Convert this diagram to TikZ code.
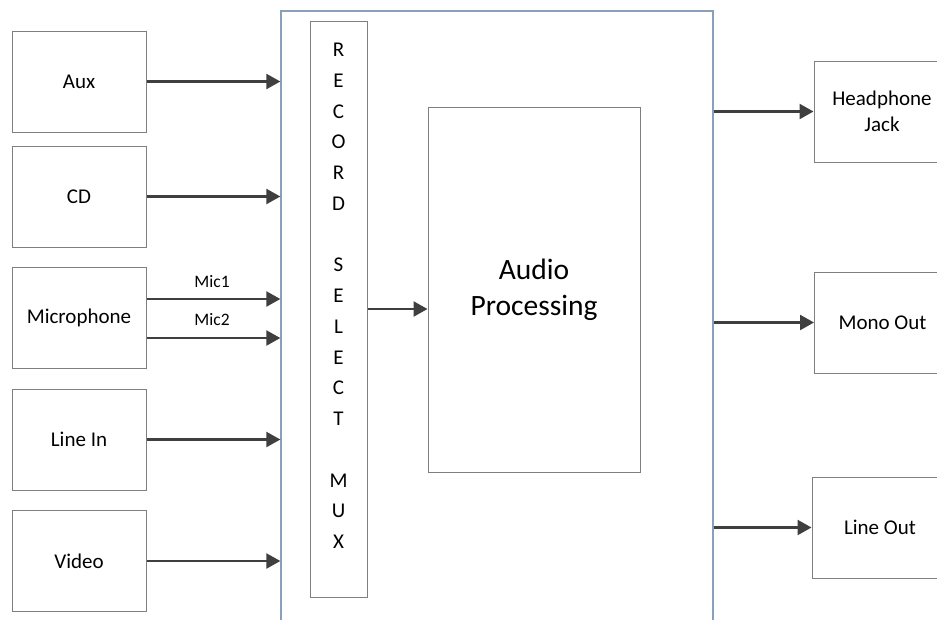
\documentclass[tikz,border=0pt]{standalone}
\usepackage{fontspec}
\setmainfont{Carlito}
\usetikzlibrary{arrows.meta}
\definecolor{boxgray}{HTML}{7F7F7F}
\definecolor{arrowgray}{HTML}{3F3F3F}
\definecolor{bigblue}{HTML}{8A9FBA}
\begin{document}
\begin{tikzpicture}[x=1pt,y=-1pt,
  box/.style={draw=boxgray, line width=1pt, minimum width=134pt, minimum height=101pt,
    inner sep=0pt, font=\fontsize{21}{25.6}\selectfont, align=center},
  conn/.style={draw=arrowgray, line width=2.3pt, -{Triangle[length=14pt,width=15pt]}},
  lbl/.style={font=\fontsize{17.5}{21}\selectfont, inner sep=0pt}]
\useasboundingbox (0,0) rectangle (937,619);
\clip (0,0) rectangle (937,619);
% main enclosure
\node[draw=bigblue, line width=1.3pt, minimum width=432pt, minimum height=649pt, inner sep=0pt] (big) at (497,335.5) {};
% mux
\node[draw=boxgray, line width=1pt, minimum width=57pt, minimum height=576pt, inner sep=0pt] (mux) at (338.5,309) {};
\node[font=\fontsize{21}{30.75}\selectfont, align=center, inner sep=0pt] (muxtext) at (338.5,296)
  {R\\E\\C\\O\\R\\D\\[30.75pt]S\\E\\L\\E\\C\\T\\[30.75pt]M\\U\\X};
% audio processing
\node[draw=boxgray, line width=1pt, minimum width=212pt, minimum height=365pt, inner sep=0pt,
  font=\fontsize{29.5}{36}\selectfont, align=center] (audio) at (534,289.5) {Audio\\Processing};
% inputs
\node[box] (aux) at (79,81.5) {Aux};
\node[box] (cd) at (79,196.5) {CD};
\node[box] (mic) at (79,317.5) {Microphone};
\node[box] (linein) at (79,439.5) {Line In};
\node[box] (video) at (79,561) {Video};
% outputs
\node[box, minimum width=136pt] (hp) at (882,111.5) {Headphone\\Jack};
\node[box, minimum width=136pt] (mono) at (882.5,322.5) {Mono Out};
\node[box, minimum width=136pt] (lineout) at (880,527.5) {Line Out};
% input connectors
\draw[conn] (aux.east) -- (aux.east -| big.west);
\draw[conn] (cd.east) -- (cd.east -| big.west);
\draw[conn] ([yshift=18.5pt]mic.east) -- ([yshift=18.5pt]mic.east -| big.west);
\draw[conn] ([yshift=-20.5pt]mic.east) -- ([yshift=-20.5pt]mic.east -| big.west);
\draw[conn] (linein.east) -- (linein.east -| big.west);
\draw[conn] (video.east) -- (video.east -| big.west);
\node[lbl] (mic1) at (212,282) {Mic1};
\node[lbl] (mic2) at (212,320) {Mic2};
% mux to processing
\draw[conn] (mux.east) -- (mux.east -| audio.west);
% outputs
\draw[conn] (big.east |- hp.west) -- (hp.west);
\draw[conn] (big.east |- mono.west) -- (mono.west);
\draw[conn] (big.east |- lineout.west) -- (lineout.west);
\end{tikzpicture}
\end{document}
